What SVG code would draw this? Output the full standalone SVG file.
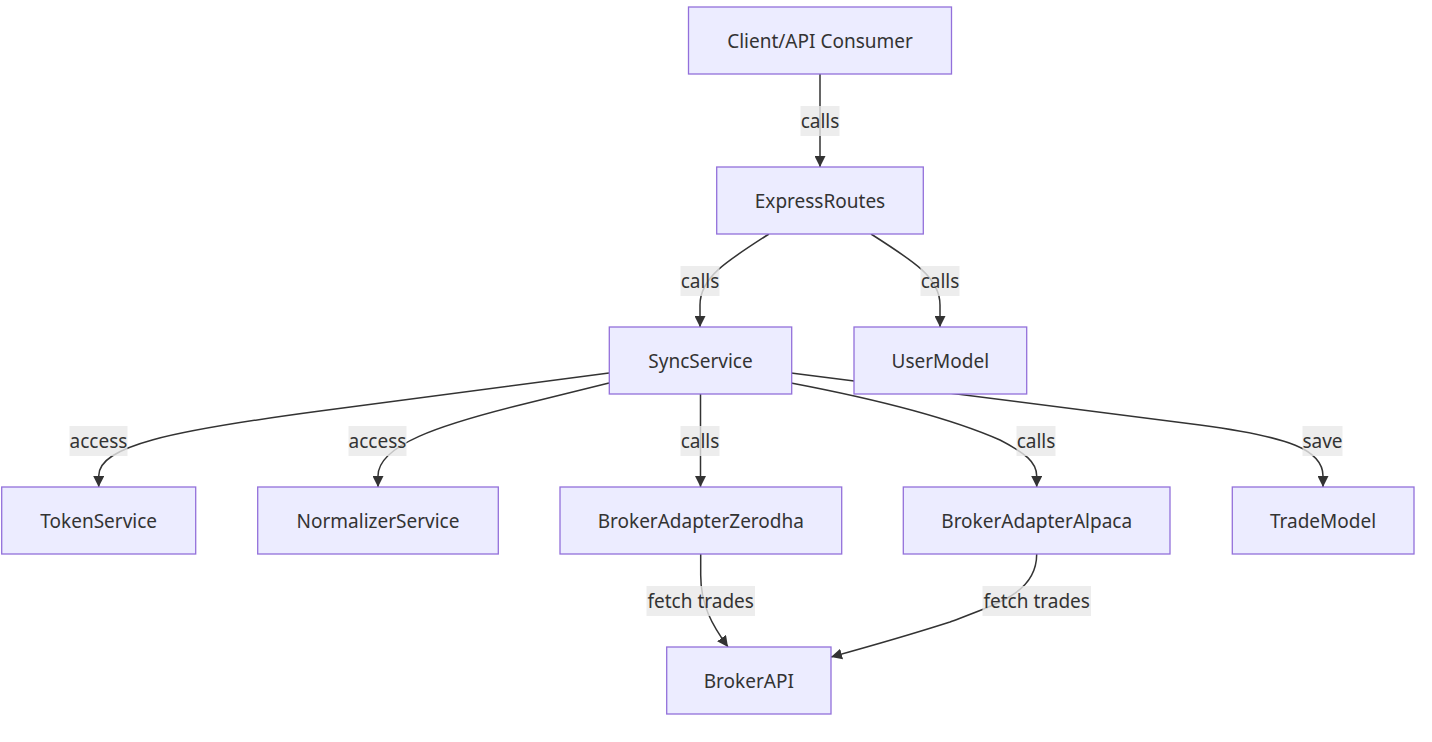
<svg xmlns="http://www.w3.org/2000/svg" width="1432" height="742" viewBox="0 0 1432 742">
<style>
.node rect{fill:#ECECFF;stroke:#9370DB;stroke-width:1.3}
.node text{font-family:"Noto Sans","DejaVu Sans",sans-serif;font-size:19px;fill:#333;text-anchor:middle}
.edge{fill:none;stroke:#333;stroke-width:1.5;marker-end:url(#arrow)}
.lbl rect{fill:#e8e8e8;fill-opacity:0.8}
.lbl text{font-family:"Noto Sans","DejaVu Sans",sans-serif;font-size:19px;fill:#333;text-anchor:middle}
</style>
<defs>
<marker id="arrow" viewBox="0 0 10 10" refX="10" refY="5" markerUnits="userSpaceOnUse" markerWidth="11" markerHeight="11" orient="auto">
<path d="M0,0 L10,5 L0,10 z" fill="#333"/>
</marker>
</defs>
<rect width="1432" height="742" fill="#fff"/>
<g id="connectors">
<path class="edge" d="M820,74 L820,167"/>
<path class="edge" d="M769,234 C725,262 700,278 700,305 L700,327"/>
<path class="edge" d="M871,234 C915,262 940,278 940,305 L940,327"/>
<path class="edge" d="M609,373 L320,411 C170,431 98.7,446 98.7,476 L98.7,487"/>
<path class="edge" d="M609,383 L520,405 C440,425 378,445 378,476 L378,487"/>
<path class="edge" d="M700.5,394 L700.5,487"/>
<path class="edge" d="M791,383 C870,398 950,418 1000,440 C1025,453 1036.7,462 1036.7,476 L1036.7,487"/>
<path class="edge" d="M791,373 L1200,425 C1290,437 1323,450 1323,476 L1323,487"/>
<path class="edge" d="M700.7,554 L700.7,575 C700.7,605 712,625 728,647"/>
<path class="edge" d="M1036.7,554 C1036.7,592 1000,603 950,622 C900,638 860,649 831,657"/>
</g>
<g id="edge-labels">
<g class="lbl"><rect x="800.5" y="106" width="39" height="30"/><text x="820" y="128">calls</text></g>
<g class="lbl"><rect x="680.5" y="266" width="39" height="30"/><text x="700" y="288">calls</text></g>
<g class="lbl"><rect x="920.5" y="266" width="39" height="30"/><text x="940" y="288">calls</text></g>
<g class="lbl"><rect x="69.5" y="426" width="58" height="30"/><text x="98.5" y="448">access</text></g>
<g class="lbl"><rect x="348.5" y="426" width="58" height="30"/><text x="377.5" y="448">access</text></g>
<g class="lbl"><rect x="680.5" y="426" width="39" height="30"/><text x="700" y="448">calls</text></g>
<g class="lbl"><rect x="1016.5" y="426" width="39" height="30"/><text x="1036" y="448">calls</text></g>
<g class="lbl"><rect x="1302.5" y="426" width="40" height="30"/><text x="1322.5" y="448">save</text></g>
<g class="lbl"><rect x="646.5" y="586" width="108.5" height="30"/><text x="700.7" y="608">fetch trades</text></g>
<g class="lbl"><rect x="982.5" y="586" width="108.5" height="30"/><text x="1036.7" y="608">fetch trades</text></g>
</g>
<g id="client" class="node"><rect x="688.5" y="7" width="263" height="67"/><text x="820" y="48">Client/API Consumer</text></g>
<g id="express" class="node"><rect x="716.7" y="167" width="206.6" height="67"/><text x="820" y="208">ExpressRoutes</text></g>
<g id="sync" class="node"><rect x="609.3" y="327" width="182.4" height="67"/><text x="700.5" y="368">SyncService</text></g>
<g id="user" class="node"><rect x="854" y="327" width="172.7" height="67"/><text x="940.3" y="368">UserModel</text></g>
<g id="token" class="node"><rect x="1.7" y="487" width="194" height="67"/><text x="98.7" y="528">TokenService</text></g>
<g id="normalizer" class="node"><rect x="257.7" y="487" width="240.6" height="67"/><text x="378" y="528">NormalizerService</text></g>
<g id="zerodha" class="node"><rect x="560" y="487" width="281.7" height="67"/><text x="700.8" y="528">BrokerAdapterZerodha</text></g>
<g id="alpaca" class="node"><rect x="903.3" y="487" width="266.7" height="67"/><text x="1036.7" y="528">BrokerAdapterAlpaca</text></g>
<g id="trade" class="node"><rect x="1232.3" y="487" width="181.7" height="67"/><text x="1323" y="528">TradeModel</text></g>
<g id="brokerapi" class="node"><rect x="666.7" y="647" width="164.3" height="67"/><text x="748.8" y="688">BrokerAPI</text></g>
</svg>
